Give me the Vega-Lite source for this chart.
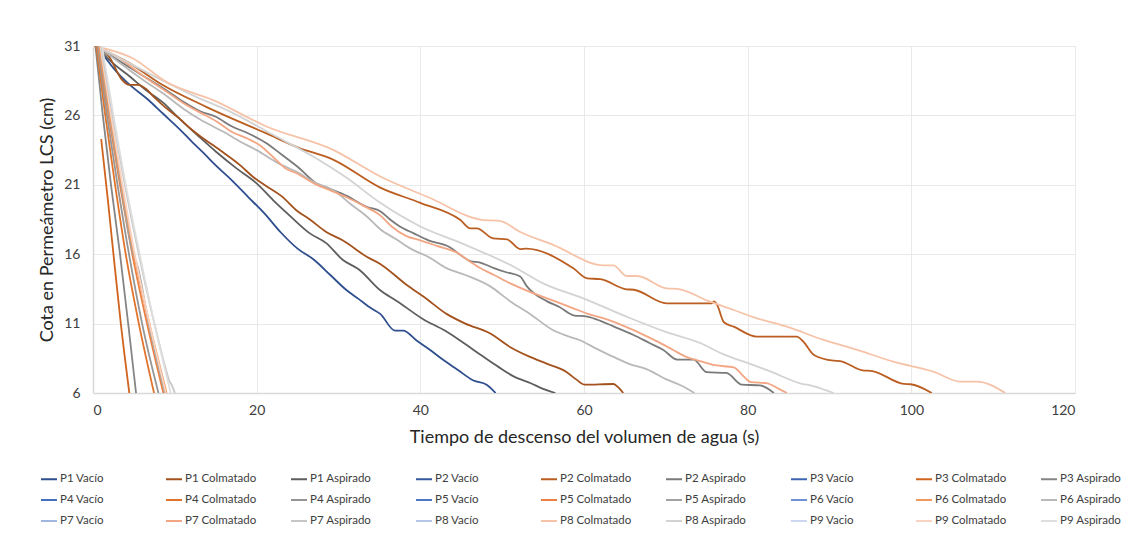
{
  "$schema": "https://vega.github.io/schema/vega-lite/v6.json",
  "width": 982,
  "height": 347,
  "autosize": {"type": "none"},
  "padding": {"left": 93, "top": 46, "right": 48, "bottom": 143},
  "background": "#ffffff",
  "datasets": {
    "curvas": [
      {"s":"P1 Vacío","t":1.2,"h":30.4},{"s":"P1 Vacío","t":2.5,"h":29.4},{"s":"P1 Vacío","t":4.5,"h":28.2},{"s":"P1 Vacío","t":6.6,"h":27.2},{"s":"P1 Vacío","t":8.6,"h":26.1},{"s":"P1 Vacío","t":10.6,"h":25.0},{"s":"P1 Vacío","t":12.1,"h":24.1},{"s":"P1 Vacío","t":13.5,"h":23.3},{"s":"P1 Vacío","t":15,"h":22.4},{"s":"P1 Vacío","t":17,"h":21.3},{"s":"P1 Vacío","t":19,"h":20.1},{"s":"P1 Vacío","t":21,"h":18.9},{"s":"P1 Vacío","t":22.9,"h":17.6},{"s":"P1 Vacío","t":25,"h":16.4},{"s":"P1 Vacío","t":27,"h":15.6},{"s":"P1 Vacío","t":29,"h":14.5},{"s":"P1 Vacío","t":31,"h":13.4},{"s":"P1 Vacío","t":32.4,"h":12.8},{"s":"P1 Vacío","t":34,"h":12.1},{"s":"P1 Vacío","t":35.1,"h":11.7},{"s":"P1 Vacío","t":36.9,"h":10.5},{"s":"P1 Vacío","t":37.9,"h":10.5},{"s":"P1 Vacío","t":39.5,"h":9.8},{"s":"P1 Vacío","t":41.2,"h":9.1},{"s":"P1 Vacío","t":43,"h":8.3},{"s":"P1 Vacío","t":44.5,"h":7.7},{"s":"P1 Vacío","t":46.5,"h":6.9},{"s":"P1 Vacío","t":48.1,"h":6.6},{"s":"P1 Vacío","t":49.2,"h":6.0},

      {"s":"P1 Aspirado","t":0.5,"h":31},{"s":"P1 Aspirado","t":2,"h":30},{"s":"P1 Aspirado","t":4.5,"h":28.8},{"s":"P1 Aspirado","t":6.5,"h":27.8},{"s":"P1 Aspirado","t":8.6,"h":26.9},{"s":"P1 Aspirado","t":10.5,"h":25.8},{"s":"P1 Aspirado","t":12.9,"h":24.5},{"s":"P1 Aspirado","t":15,"h":23.4},{"s":"P1 Aspirado","t":17.5,"h":22.2},{"s":"P1 Aspirado","t":20,"h":21.1},{"s":"P1 Aspirado","t":22,"h":19.9},{"s":"P1 Aspirado","t":24,"h":18.8},{"s":"P1 Aspirado","t":26.5,"h":17.5},{"s":"P1 Aspirado","t":28.5,"h":16.8},{"s":"P1 Aspirado","t":30.5,"h":15.6},{"s":"P1 Aspirado","t":32.5,"h":14.9},{"s":"P1 Aspirado","t":35.1,"h":13.4},{"s":"P1 Aspirado","t":37.2,"h":12.6},{"s":"P1 Aspirado","t":40.4,"h":11.3},{"s":"P1 Aspirado","t":43,"h":10.5},{"s":"P1 Aspirado","t":45.3,"h":9.6},{"s":"P1 Aspirado","t":47.5,"h":8.7},{"s":"P1 Aspirado","t":49.5,"h":7.9},{"s":"P1 Aspirado","t":51.4,"h":7.2},{"s":"P1 Aspirado","t":53.5,"h":6.7},{"s":"P1 Aspirado","t":55,"h":6.3},{"s":"P1 Aspirado","t":56.5,"h":6.0},

      {"s":"P1 Colmatado","t":0.8,"h":31},{"s":"P1 Colmatado","t":2,"h":30.2},{"s":"P1 Colmatado","t":3.5,"h":28.6},{"s":"P1 Colmatado","t":4.5,"h":28.2},{"s":"P1 Colmatado","t":5.5,"h":28.2},{"s":"P1 Colmatado","t":6.5,"h":27.9},{"s":"P1 Colmatado","t":7.5,"h":27.3},{"s":"P1 Colmatado","t":8.8,"h":26.6},{"s":"P1 Colmatado","t":10.5,"h":25.8},{"s":"P1 Colmatado","t":12,"h":25.0},{"s":"P1 Colmatado","t":13.1,"h":24.5},{"s":"P1 Colmatado","t":15.5,"h":23.5},{"s":"P1 Colmatado","t":18,"h":22.4},{"s":"P1 Colmatado","t":19.5,"h":21.6},{"s":"P1 Colmatado","t":21.2,"h":20.9},{"s":"P1 Colmatado","t":23,"h":20.2},{"s":"P1 Colmatado","t":25,"h":19.1},{"s":"P1 Colmatado","t":26.5,"h":18.5},{"s":"P1 Colmatado","t":28.5,"h":17.6},{"s":"P1 Colmatado","t":30.5,"h":17.0},{"s":"P1 Colmatado","t":33.5,"h":15.8},{"s":"P1 Colmatado","t":35.1,"h":15.3},{"s":"P1 Colmatado","t":38.3,"h":13.8},{"s":"P1 Colmatado","t":40.5,"h":12.9},{"s":"P1 Colmatado","t":43.2,"h":11.7},{"s":"P1 Colmatado","t":45.5,"h":11.0},{"s":"P1 Colmatado","t":48.5,"h":10.3},{"s":"P1 Colmatado","t":51,"h":9.3},{"s":"P1 Colmatado","t":53.4,"h":8.6},{"s":"P1 Colmatado","t":55.5,"h":8.1},{"s":"P1 Colmatado","t":57.9,"h":7.5},{"s":"P1 Colmatado","t":59,"h":7.0},{"s":"P1 Colmatado","t":60.1,"h":6.6},{"s":"P1 Colmatado","t":63.6,"h":6.65},{"s":"P1 Colmatado","t":64.2,"h":6.4},{"s":"P1 Colmatado","t":64.8,"h":6.0},

      {"s":"P2 Colmatado","t":0.2,"h":31},{"s":"P2 Colmatado","t":4.5,"h":29.75},{"s":"P2 Colmatado","t":8.2,"h":28.3},{"s":"P2 Colmatado","t":13.9,"h":26.6},{"s":"P2 Colmatado","t":21.2,"h":24.7},{"s":"P2 Colmatado","t":25,"h":23.7},{"s":"P2 Colmatado","t":29.4,"h":22.8},{"s":"P2 Colmatado","t":35.1,"h":20.8},{"s":"P2 Colmatado","t":40,"h":19.7},{"s":"P2 Colmatado","t":44.9,"h":18.46},{"s":"P2 Colmatado","t":46.1,"h":17.86},{"s":"P2 Colmatado","t":46.9,"h":17.86},{"s":"P2 Colmatado","t":48.9,"h":17.14},{"s":"P2 Colmatado","t":50.6,"h":17.07},{"s":"P2 Colmatado","t":52.2,"h":16.37},{"s":"P2 Colmatado","t":52.9,"h":16.4},{"s":"P2 Colmatado","t":58.7,"h":14.98},{"s":"P2 Colmatado","t":60.4,"h":14.26},{"s":"P2 Colmatado","t":62,"h":14.2},{"s":"P2 Colmatado","t":65.2,"h":13.47},{"s":"P2 Colmatado","t":66.1,"h":13.44},{"s":"P2 Colmatado","t":70.1,"h":12.46},{"s":"P2 Colmatado","t":75.6,"h":12.46},{"s":"P2 Colmatado","t":75.9,"h":12.6},{"s":"P2 Colmatado","t":76.3,"h":12.3},{"s":"P2 Colmatado","t":77.1,"h":11.1},{"s":"P2 Colmatado","t":78.3,"h":10.78},{"s":"P2 Colmatado","t":81.1,"h":10.06},{"s":"P2 Colmatado","t":86,"h":10.06},{"s":"P2 Colmatado","t":86.8,"h":9.7},{"s":"P2 Colmatado","t":88.1,"h":8.74},{"s":"P2 Colmatado","t":90.5,"h":8.33},{"s":"P2 Colmatado","t":91.3,"h":8.3},{"s":"P2 Colmatado","t":94.2,"h":7.61},{"s":"P2 Colmatado","t":95,"h":7.6},{"s":"P2 Colmatado","t":99.1,"h":6.65},{"s":"P2 Colmatado","t":99.9,"h":6.63},{"s":"P2 Colmatado","t":102.5,"h":6.0},

      {"s":"P2 Aspirado","t":0.3,"h":31},{"s":"P2 Aspirado","t":3,"h":30},{"s":"P2 Aspirado","t":6,"h":28.9},{"s":"P2 Aspirado","t":9,"h":27.8},{"s":"P2 Aspirado","t":11,"h":27},{"s":"P2 Aspirado","t":13.1,"h":26.3},{"s":"P2 Aspirado","t":15,"h":25.9},{"s":"P2 Aspirado","t":17,"h":25.2},{"s":"P2 Aspirado","t":19,"h":24.7},{"s":"P2 Aspirado","t":21.2,"h":24.0},{"s":"P2 Aspirado","t":23,"h":23.2},{"s":"P2 Aspirado","t":25,"h":22.3},{"s":"P2 Aspirado","t":27.3,"h":21.1},{"s":"P2 Aspirado","t":29,"h":20.7},{"s":"P2 Aspirado","t":31,"h":20.2},{"s":"P2 Aspirado","t":33.5,"h":19.4},{"s":"P2 Aspirado","t":35.1,"h":19.1},{"s":"P2 Aspirado","t":36.3,"h":18.5},{"s":"P2 Aspirado","t":37.5,"h":18.0},{"s":"P2 Aspirado","t":39.2,"h":17.5},{"s":"P2 Aspirado","t":41,"h":17.0},{"s":"P2 Aspirado","t":43.6,"h":16.5},{"s":"P2 Aspirado","t":45,"h":15.9},{"s":"P2 Aspirado","t":46.1,"h":15.5},{"s":"P2 Aspirado","t":47.3,"h":15.4},{"s":"P2 Aspirado","t":49,"h":15.0},{"s":"P2 Aspirado","t":50.5,"h":14.7},{"s":"P2 Aspirado","t":52.2,"h":14.4},{"s":"P2 Aspirado","t":53,"h":13.7},{"s":"P2 Aspirado","t":55.5,"h":12.6},{"s":"P2 Aspirado","t":57,"h":12.2},{"s":"P2 Aspirado","t":58.7,"h":11.6},{"s":"P2 Aspirado","t":60.4,"h":11.5},{"s":"P2 Aspirado","t":62,"h":11.2},{"s":"P2 Aspirado","t":63.6,"h":10.8},{"s":"P2 Aspirado","t":66,"h":10.2},{"s":"P2 Aspirado","t":68,"h":9.6},{"s":"P2 Aspirado","t":69.7,"h":9.1},{"s":"P2 Aspirado","t":71.4,"h":8.4},{"s":"P2 Aspirado","t":73.4,"h":8.4},{"s":"P2 Aspirado","t":75,"h":7.5},{"s":"P2 Aspirado","t":77.4,"h":7.45},{"s":"P2 Aspirado","t":79.3,"h":6.6},{"s":"P2 Aspirado","t":81.5,"h":6.55},{"s":"P2 Aspirado","t":83.2,"h":6.0},

      {"s":"P6 Aspirado","t":0.6,"h":31},{"s":"P6 Aspirado","t":3,"h":29.9},{"s":"P6 Aspirado","t":6,"h":28.6},{"s":"P6 Aspirado","t":9,"h":27.4},{"s":"P6 Aspirado","t":11,"h":26.5},{"s":"P6 Aspirado","t":13.1,"h":25.7},{"s":"P6 Aspirado","t":16,"h":24.8},{"s":"P6 Aspirado","t":18,"h":24.1},{"s":"P6 Aspirado","t":20,"h":23.5},{"s":"P6 Aspirado","t":22.5,"h":22.6},{"s":"P6 Aspirado","t":25,"h":21.9},{"s":"P6 Aspirado","t":27,"h":21.2},{"s":"P6 Aspirado","t":29.4,"h":20.6},{"s":"P6 Aspirado","t":31.5,"h":19.6},{"s":"P6 Aspirado","t":33.5,"h":18.7},{"s":"P6 Aspirado","t":35.1,"h":17.8},{"s":"P6 Aspirado","t":37,"h":17.1},{"s":"P6 Aspirado","t":38.8,"h":16.4},{"s":"P6 Aspirado","t":41,"h":15.8},{"s":"P6 Aspirado","t":43.2,"h":15.0},{"s":"P6 Aspirado","t":45.5,"h":14.5},{"s":"P6 Aspirado","t":48.5,"h":13.7},{"s":"P6 Aspirado","t":51,"h":12.6},{"s":"P6 Aspirado","t":53.4,"h":11.7},{"s":"P6 Aspirado","t":56.3,"h":10.5},{"s":"P6 Aspirado","t":58,"h":10.1},{"s":"P6 Aspirado","t":59.5,"h":9.8},{"s":"P6 Aspirado","t":61.5,"h":9.2},{"s":"P6 Aspirado","t":63.6,"h":8.6},{"s":"P6 Aspirado","t":65.5,"h":8.1},{"s":"P6 Aspirado","t":67.7,"h":7.7},{"s":"P6 Aspirado","t":70,"h":7.0},{"s":"P6 Aspirado","t":72,"h":6.5},{"s":"P6 Aspirado","t":73.5,"h":6.0},

      {"s":"P7 Colmatado","t":0.4,"h":31},{"s":"P7 Colmatado","t":3,"h":30.2},{"s":"P7 Colmatado","t":6,"h":28.9},{"s":"P7 Colmatado","t":9,"h":27.7},{"s":"P7 Colmatado","t":11,"h":26.9},{"s":"P7 Colmatado","t":13.1,"h":26.2},{"s":"P7 Colmatado","t":15,"h":25.6},{"s":"P7 Colmatado","t":17,"h":24.8},{"s":"P7 Colmatado","t":19,"h":24.3},{"s":"P7 Colmatado","t":20.5,"h":23.8},{"s":"P7 Colmatado","t":22,"h":23.0},{"s":"P7 Colmatado","t":23.5,"h":22.2},{"s":"P7 Colmatado","t":25,"h":21.8},{"s":"P7 Colmatado","t":27,"h":21.1},{"s":"P7 Colmatado","t":29,"h":20.6},{"s":"P7 Colmatado","t":31,"h":20.1},{"s":"P7 Colmatado","t":33,"h":19.5},{"s":"P7 Colmatado","t":35.1,"h":18.8},{"s":"P7 Colmatado","t":36.5,"h":18.0},{"s":"P7 Colmatado","t":38.3,"h":17.3},{"s":"P7 Colmatado","t":40,"h":17.0},{"s":"P7 Colmatado","t":42,"h":16.6},{"s":"P7 Colmatado","t":44.5,"h":16.1},{"s":"P7 Colmatado","t":46,"h":15.5},{"s":"P7 Colmatado","t":47.3,"h":15.0},{"s":"P7 Colmatado","t":49,"h":14.5},{"s":"P7 Colmatado","t":51,"h":13.9},{"s":"P7 Colmatado","t":52.5,"h":13.5},{"s":"P7 Colmatado","t":54.2,"h":13.1},{"s":"P7 Colmatado","t":56.5,"h":12.6},{"s":"P7 Colmatado","t":58.7,"h":12.1},{"s":"P7 Colmatado","t":60.5,"h":11.7},{"s":"P7 Colmatado","t":62.8,"h":11.3},{"s":"P7 Colmatado","t":65,"h":10.8},{"s":"P7 Colmatado","t":66.9,"h":10.3},{"s":"P7 Colmatado","t":69,"h":9.7},{"s":"P7 Colmatado","t":70.9,"h":9.1},{"s":"P7 Colmatado","t":72.5,"h":8.6},{"s":"P7 Colmatado","t":74.2,"h":8.3},{"s":"P7 Colmatado","t":76,"h":8.0},{"s":"P7 Colmatado","t":78.3,"h":7.85},{"s":"P7 Colmatado","t":79.5,"h":7.2},{"s":"P7 Colmatado","t":80.3,"h":6.8},{"s":"P7 Colmatado","t":82.4,"h":6.7},{"s":"P7 Colmatado","t":83.8,"h":6.3},{"s":"P7 Colmatado","t":84.8,"h":6.0},

      {"s":"P8 Aspirado","t":0.5,"h":31},{"s":"P8 Aspirado","t":4,"h":29.9},{"s":"P8 Aspirado","t":8.2,"h":28.6},{"s":"P8 Aspirado","t":12,"h":27.5},{"s":"P8 Aspirado","t":17,"h":26.2},{"s":"P8 Aspirado","t":22,"h":24.6},{"s":"P8 Aspirado","t":27,"h":23.0},{"s":"P8 Aspirado","t":31,"h":21.5},{"s":"P8 Aspirado","t":35.1,"h":19.7},{"s":"P8 Aspirado","t":40,"h":18.0},{"s":"P8 Aspirado","t":45,"h":16.8},{"s":"P8 Aspirado","t":51.4,"h":15.1},{"s":"P8 Aspirado","t":55,"h":13.9},{"s":"P8 Aspirado","t":60,"h":12.8},{"s":"P8 Aspirado","t":65.2,"h":11.5},{"s":"P8 Aspirado","t":70,"h":10.4},{"s":"P8 Aspirado","t":74.2,"h":9.6},{"s":"P8 Aspirado","t":77,"h":8.8},{"s":"P8 Aspirado","t":80.3,"h":8.1},{"s":"P8 Aspirado","t":83,"h":7.5},{"s":"P8 Aspirado","t":86.4,"h":6.7},{"s":"P8 Aspirado","t":88,"h":6.5},{"s":"P8 Aspirado","t":90.5,"h":6.0},

      {"s":"P8 Colmatado","t":0.2,"h":31},{"s":"P8 Colmatado","t":4.9,"h":30.1},{"s":"P8 Colmatado","t":9,"h":28.4},{"s":"P8 Colmatado","t":14.7,"h":27.1},{"s":"P8 Colmatado","t":21.2,"h":25.2},{"s":"P8 Colmatado","t":29.4,"h":23.5},{"s":"P8 Colmatado","t":35.1,"h":21.6},{"s":"P8 Colmatado","t":41,"h":20.1},{"s":"P8 Colmatado","t":47.7,"h":18.46},{"s":"P8 Colmatado","t":49.7,"h":18.4},{"s":"P8 Colmatado","t":52.2,"h":17.6},{"s":"P8 Colmatado","t":56.3,"h":16.66},{"s":"P8 Colmatado","t":62.4,"h":15.2},{"s":"P8 Colmatado","t":63.6,"h":15.2},{"s":"P8 Colmatado","t":65.2,"h":14.43},{"s":"P8 Colmatado","t":66.5,"h":14.43},{"s":"P8 Colmatado","t":70.1,"h":13.54},{"s":"P8 Colmatado","t":71.4,"h":13.5},{"s":"P8 Colmatado","t":75.4,"h":12.58},{"s":"P8 Colmatado","t":78.3,"h":11.98},{"s":"P8 Colmatado","t":80.5,"h":11.5},{"s":"P8 Colmatado","t":84.8,"h":10.78},{"s":"P8 Colmatado","t":89.3,"h":9.82},{"s":"P8 Colmatado","t":93.4,"h":9.1},{"s":"P8 Colmatado","t":97.8,"h":8.26},{"s":"P8 Colmatado","t":102.7,"h":7.54},{"s":"P8 Colmatado","t":106,"h":6.82},{"s":"P8 Colmatado","t":108,"h":6.82},{"s":"P8 Colmatado","t":111.5,"h":6.0},

      {"s":"P3 Colmatado","t":1.0,"h":24.3},{"s":"P3 Colmatado","t":1.8,"h":20},{"s":"P3 Colmatado","t":2.5,"h":16},{"s":"P3 Colmatado","t":3.4,"h":11},{"s":"P3 Colmatado","t":4.44,"h":6},
      {"s":"P3 Aspirado","t":0.3,"h":31},{"s":"P3 Aspirado","t":1.2,"h":26},{"s":"P3 Aspirado","t":2.2,"h":21},{"s":"P3 Aspirado","t":3.3,"h":16},{"s":"P3 Aspirado","t":4.3,"h":11},{"s":"P3 Aspirado","t":5.26,"h":6},
      {"s":"P4 Colmatado","t":0.4,"h":31},{"s":"P4 Colmatado","t":1.5,"h":26},{"s":"P4 Colmatado","t":2.7,"h":21},{"s":"P4 Colmatado","t":4.0,"h":16},{"s":"P4 Colmatado","t":5.6,"h":11},{"s":"P4 Colmatado","t":7.46,"h":6},
      {"s":"P4 Aspirado","t":0.5,"h":31},{"s":"P4 Aspirado","t":1.7,"h":26},{"s":"P4 Aspirado","t":3.0,"h":21},{"s":"P4 Aspirado","t":4.4,"h":16},{"s":"P4 Aspirado","t":6.0,"h":11},{"s":"P4 Aspirado","t":8.0,"h":6},
      {"s":"P5 Colmatado","t":0.6,"h":31},{"s":"P5 Colmatado","t":1.9,"h":26},{"s":"P5 Colmatado","t":3.3,"h":21},{"s":"P5 Colmatado","t":4.8,"h":16},{"s":"P5 Colmatado","t":6.6,"h":11},{"s":"P5 Colmatado","t":8.6,"h":6},
      {"s":"P5 Aspirado","t":0.7,"h":31},{"s":"P5 Aspirado","t":2.0,"h":26},{"s":"P5 Aspirado","t":3.4,"h":21},{"s":"P5 Aspirado","t":4.9,"h":16},{"s":"P5 Aspirado","t":5.3,"h":15.4},{"s":"P5 Aspirado","t":5.5,"h":15.0},{"s":"P5 Aspirado","t":6.8,"h":11},{"s":"P5 Aspirado","t":8.8,"h":6},
      {"s":"P6 Colmatado","t":0.8,"h":31},{"s":"P6 Colmatado","t":2.1,"h":26},{"s":"P6 Colmatado","t":3.5,"h":21},{"s":"P6 Colmatado","t":5.0,"h":16},{"s":"P6 Colmatado","t":6.9,"h":11},{"s":"P6 Colmatado","t":9.0,"h":6},
      {"s":"P9 Colmatado","t":0.9,"h":31},{"s":"P9 Colmatado","t":2.2,"h":26},{"s":"P9 Colmatado","t":3.6,"h":21},{"s":"P9 Colmatado","t":5.1,"h":16},{"s":"P9 Colmatado","t":6.9,"h":11},{"s":"P9 Colmatado","t":8.9,"h":6},
      {"s":"P7 Aspirado","t":1.0,"h":31},{"s":"P7 Aspirado","t":2.4,"h":26},{"s":"P7 Aspirado","t":3.9,"h":21},{"s":"P7 Aspirado","t":5.6,"h":16},{"s":"P7 Aspirado","t":7.5,"h":11},{"s":"P7 Aspirado","t":9.0,"h":7.5},{"s":"P7 Aspirado","t":9.3,"h":6.9},{"s":"P7 Aspirado","t":9.6,"h":6.6},{"s":"P7 Aspirado","t":10.0,"h":6},
      {"s":"P9 Aspirado","t":1.1,"h":31},{"s":"P9 Aspirado","t":2.5,"h":26},{"s":"P9 Aspirado","t":4.0,"h":21},{"s":"P9 Aspirado","t":5.7,"h":16},{"s":"P9 Aspirado","t":7.5,"h":11},{"s":"P9 Aspirado","t":9.5,"h":6}
    ]
  },
  "data": {"name": "curvas"},
  "mark": {"type": "line", "strokeWidth": 1.8, "interpolate": "monotone", "clip": true},
  "encoding": {
    "x": {
      "field": "t", "type": "quantitative",
      "scale": {"domain": [0, 120], "nice": false, "zero": false},
      "axis": {"values": [0, 20, 40, 60, 80, 100, 120], "title": "Tiempo de descenso del volumen de agua (s)", "labelPadding": 10, "titlePadding": 11}
    },
    "y": {
      "field": "h", "type": "quantitative",
      "scale": {"domain": [6, 31], "nice": false, "zero": false},
      "axis": {"values": [6, 11, 16, 21, 26, 31], "title": "Cota en Permeámetro LCS (cm)", "labelPadding": 13, "titlePadding": 7}
    },
    "color": {
      "field": "s", "type": "nominal",
      "scale": {
        "domain": ["P1 Vacío","P1 Colmatado","P1 Aspirado","P2 Vacío","P2 Colmatado","P2 Aspirado","P3 Vacío","P3 Colmatado","P3 Aspirado","P4 Vacío","P4 Colmatado","P4 Aspirado","P5 Vacío","P5 Colmatado","P5 Aspirado","P6 Vacío","P6 Colmatado","P6 Aspirado","P7 Vacío","P7 Colmatado","P7 Aspirado","P8 Vacío","P8 Colmatado","P8 Aspirado","P9 Vacio","P9 Colmatado","P9 Aspirado"],
        "range": ["#2E4E8E","#A3521D","#5E5E5E","#34589E","#BB5E22","#7A7A7A","#3C64B2","#D0631E","#858585","#4470C0","#E2732A","#959595","#4A78C6","#EC8040","#A2A2A2","#6F90D2","#F0985E","#B9B9B9","#A0B5E0","#F2A684","#C6C6C6","#B5C6E8","#F6C3A8","#D3D3D3","#CCD8EF","#F8D3C1","#DEDEDE"]
      },
      "legend": {
        "orient": "none", "legendX": -53, "legendY": 424,
        "direction": "horizontal", "columns": 9, "gridAlign": "all",
        "title": null, "symbolType": "stroke", "symbolSize": 256, "symbolStrokeWidth": 2,
        "labelFontSize": 11.5, "labelOffset": 2, "columnPadding": 30, "rowPadding": 6,
        "labelFont": "Lato", "labelColor": "#404040", "labelLimit": 200
      }
    }
  },
  "config": {
    "font": "Lato",
    "view": {"stroke": null},
    "axis": {
      "gridColor": "#E9E9E9", "gridWidth": 1, "domainColor": "#D9D9D9", "domainWidth": 1.5,
      "ticks": false, "labelColor": "#404040", "labelFont": "Lato", "labelFontSize": 14,
      "titleFont": "Lato", "titleFontSize": 18, "titleFontWeight": "normal", "titleColor": "#262626"
    }
  }
}
